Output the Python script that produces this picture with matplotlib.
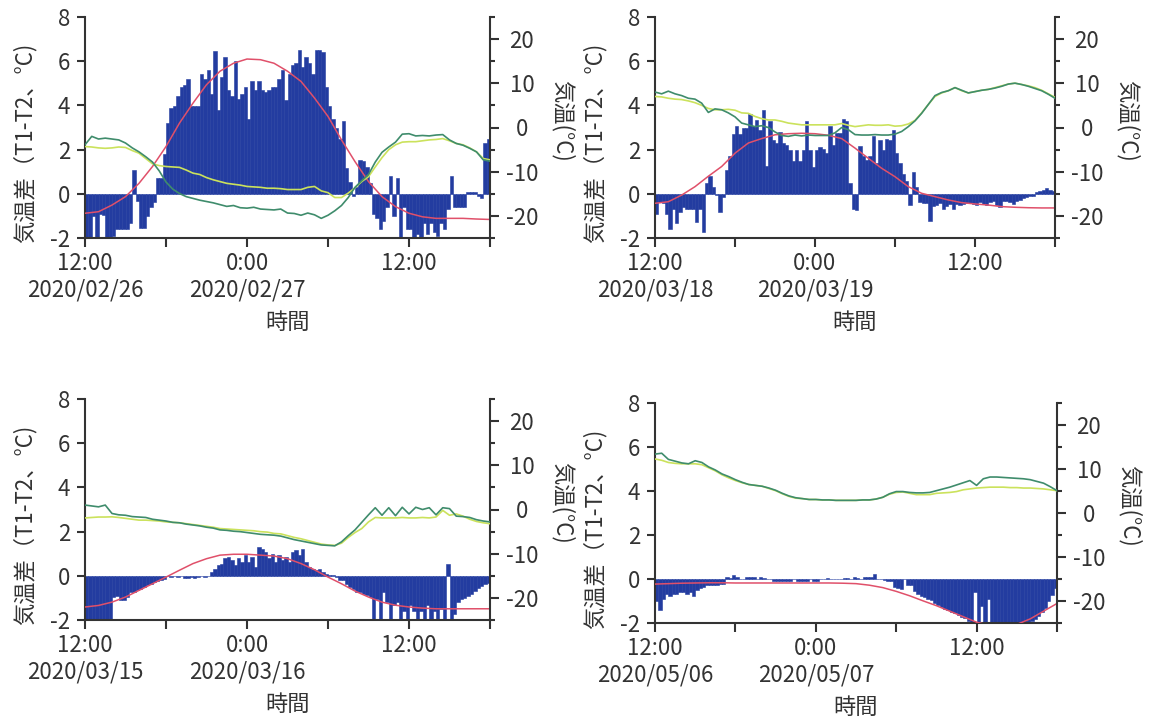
import numpy as np
import matplotlib
matplotlib.use("Agg")
import matplotlib.pyplot as plt

plt.rcParams['font.family'] = ['Noto Sans CJK JP', 'DejaVu Sans']
plt.rcParams['axes.unicode_minus'] = False

# ---------------- data ----------------
# bars: temperature difference T1-T2 (°C), 15-minute steps from 12:00 of day 1
bars_p1 = [-2.3, -2.3, -1.0, -2.3, -0.9, -0.95, -2.3, -2.3, -1.9, -1.6,
           -1.6, -1.6, -1.6, -1.3, 1.1, -0.3, -1.55, -1.55, -1.0, -0.6,
           -0.35, 0.7, 0.7, 1.8, 3.2, 3.9, 3.95, 4.4, 4.85, 4.9,
           5.2, 3.95, 3.95, 3.95, 5.4, 5.2, 5.6, 4.5, 6.45, 3.8,
           5.3, 6.2, 4.7, 4.4, 6.0, 4.3, 4.5, 4.85, 3.4, 5.1,
           4.7, 5.1, 4.7, 4.6, 4.7, 4.85, 4.85, 5.2, 5.6, 4.25,
           5.4, 5.8, 5.9, 6.5, 5.75, 6.2, 5.9, 5.4, 6.5, 6.5,
           6.4, 4.85, 3.95, 3.4, 3.0, 2.5, 3.3, 1.15, 0.55, -0.1,
           0.3, 1.55, 1.5, 1.2, 0.5, -0.9, -1.1, -1.6, -1.2, -0.6,
           0.8, -1.0, 0.7, -2.3, -0.6, -1.6, -1.6, -2.3, -1.8, -2.3,
           -1.3, -1.8, -1.3, -1.7, -1.9, -1.3, -1.6, -0.7, 0.8, -0.6,
           -0.6, -0.6, -0.6, 0.1, 0.1, 0.1, -0.1, -0.2, 2.3, 2.5]
bars_p2 = [-0.9, -0.35, -0.4, -0.9, -1.6, -0.7, -1.3, -0.8, -0.57, -0.7,
           -0.7, -0.7, -1.25, -0.7, -1.7, 0.5, 0.8, 0.3, -0.05, -0.8,
           -0.15, 1.1, 1.7, 2.7, 3.05, 2.7, 3.0, 3.0, 3.6, 3.05,
           3.35, 2.9, 3.8, 1.25, 3.3, 2.45, 2.3, 2.8, 2.3, 2.2,
           2.0, 1.5, 2.0, 1.5, 2.0, 3.3, 2.0, 1.2, 2.0, 2.1,
           2.05, 1.85, 3.05, 2.2, 2.75, 2.75, 3.4, 3.3, 0.5, -0.7,
           -0.72, 2.15, 1.7, 1.55, 1.7, 2.6, 1.4, 2.45, 2.0, 2.5,
           2.45, 2.9, 1.85, 1.4, 0.9, 0.6, -0.5, 1.0, 0.3, -0.35,
           -0.4, -0.4, -1.2, -0.55, -0.5, -0.4, -0.7, -0.55, -0.45, -0.7,
           -0.45, -0.5, -0.45, -0.4, -0.4, -0.45, -0.5, -0.35, -0.45, -0.5,
           -0.35, -0.3, -0.5, -0.6, -0.3, -0.3, -0.35, -0.45, -0.3, -0.25,
           -0.2, -0.15, -0.1, -0.1, 0.1, 0.15, 0.2, 0.25, 0.2, 0.15]
bars_p3 = [-2.3, -2.3, -2.3, -2.3, -2.3, -2.3, -2.3, -2.3, -0.95, -0.92,
           -1.1, -1.1, -0.95, -0.72, -0.72, -0.65, -0.57, -0.5, -0.42, -0.35,
           -0.27, -0.22, -0.18, -0.12, 0.0, -0.05, 0.0, -0.05, 0.0, -0.1,
           -0.08, -0.05, -0.1, -0.05, 0.0, -0.03, 0.0, 0.2, 0.33, 0.48,
           0.55, 0.8, 0.86, 0.7, 0.48, 0.8, 0.65, 0.94, 0.65, 0.86,
           0.4, 1.3, 1.24, 1.1, 0.8, 1.0, 0.63, 0.94, 0.7, 0.86,
           0.63, 1.1, 1.16, 0.94, 1.24, 0.63, 0.4, 0.33, 0.26, 0.33,
           0.18, 0.1, 0.03, 0.05, -0.05, -0.2, -0.2, -0.35, -0.5, -0.57,
           -0.72, -0.72, -0.8, -0.87, -0.95, -2.3, -1.05, -2.3, -0.72, -1.17,
           -2.3, -1.32, -1.17, -2.3, -1.6, -2.3, -1.32, -1.6, -2.3, -1.6,
           -2.3, -1.32, -2.3, -1.6, -2.3, -1.47, -2.3, 0.55, -2.3, -1.7,
           -1.17, -1.03, -1.0, -0.9, -0.8, -0.7, -0.55, -0.45, -0.35, -0.3]
bars_p4 = [-1.0, -1.4, -0.9, -0.65, -0.75, -0.65, -0.65, -0.57, -0.6, -0.65,
           -0.57, -0.75, -0.5, -0.4, -0.35, -0.27, -0.27, -0.25, -0.25, -0.2,
           -0.2, 0.1, 0.05, 0.2, 0.1, 0.0, 0.0, 0.08, 0.08, 0.08,
           0.0, 0.1, 0.06, 0.0, 0.0, -0.08, -0.08, -0.08, -0.1, -0.1,
           -0.1, 0.0, -0.08, -0.08, -0.08, -0.08, 0.0, -0.08, -0.08, 0.0,
           0.0, 0.05, 0.0, 0.0, 0.0, 0.0, 0.06, 0.06, 0.0, 0.1,
           0.06, 0.0, 0.1, 0.1, 0.1, 0.26, 0.0, 0.0, -0.05, -0.1,
           -0.1, -0.35, -0.4, -0.45, 0.0, -0.27, -0.27, -0.55, -0.65, -0.75,
           -0.8, -0.9, -0.95, -1.1, -1.18, -1.28, -1.33, -1.4, -1.48, -1.55,
           -1.63, -1.7, -1.78, -1.9, -2.0, -0.6, -2.3, -1.2, -2.3, -0.9,
           -2.3, -2.3, -2.3, -2.3, -2.3, -2.3, -2.3, -2.3, -2.3, -2.3,
           -2.3, -2.1, -1.9, -1.8, -1.65, -1.5, -1.3, -1.0, -0.7, -0.4]

# air temperature (°C, right axis), 30-minute steps: line A (dark green), line B (yellow-green)
tempA_p1 = [-3.9, -2.0, -2.6, -2.4, -2.6, -2.8, -3.5, -4.6, -5.5, -6.6, -7.8, -9.8, -12.3, -13.9,
            -14.9, -15.6, -16.0, -16.4, -16.7, -17.0, -17.4, -17.8, -17.6, -18.1, -18.2, -18.0,
            -18.4, -18.5, -18.6, -18.4, -19.3, -19.4, -19.8, -19.3, -19.7, -20.5, -19.8, -18.8,
            -17.6, -15.8, -13.5, -12.0, -10.6, -7.8, -5.6, -4.4, -3.3, -1.5, -1.4, -1.9, -1.8,
            -1.9, -1.7, -1.6, -2.8, -3.6, -4.0, -4.7, -5.5, -7.3, -7.6]
tempB_p1 = [-4.3, -4.4, -4.6, -4.7, -4.6, -4.4, -4.5, -5.2, -5.8, -7.0, -8.2, -8.6, -8.8, -8.9,
            -9.0, -9.6, -10.3, -10.6, -11.3, -11.8, -12.2, -12.6, -12.8, -13.0, -13.3, -13.4,
            -13.5, -13.7, -13.7, -13.8, -14.0, -14.0, -14.0, -13.5, -13.3, -14.3, -14.7, -15.8,
            -15.8, -14.8, -13.6, -12.2, -11.1, -8.9, -6.8, -5.0, -3.9, -3.3, -3.2, -3.2, -3.0,
            -2.8, -2.7, -2.5, -3.0, -3.6, -3.9, -4.6, -5.5, -7.0, -7.3]
tempA_p2 = [8.0, 7.6, 8.2, 7.6, 7.2, 6.6, 6.4, 5.5, 3.4, 4.2, 4.0, 3.3, 2.4, 1.0, 0.6, 0.2, 0.4,
            0.0, -1.0, -1.8, -2.0, -1.7, -1.9, -1.7, -1.8, -1.8, -1.8, -1.2, 0.0, -0.5, -1.6,
            -1.7, -1.7, -1.6, -1.7, -1.7, -1.5, -0.9, 0.2, 1.5, 3.2, 5.2, 7.2, 7.9, 8.3, 9.0,
            8.4, 7.8, 8.1, 8.4, 8.6, 8.9, 9.3, 9.8, 10.0, 9.7, 9.3, 8.8, 8.3, 7.5, 6.6]
tempB_p2 = [7.0, 6.9, 6.6, 6.4, 6.3, 6.0, 5.6, 5.0, 4.3, 4.0, 4.0, 4.1, 3.9, 3.3, 3.2, 2.5, 2.0,
            1.7, 1.7, 1.4, 1.0, 0.8, 0.6, 0.6, 0.6, 0.6, 0.6, 0.6, 0.9, 0.5, 0.2, 0.4, 0.6, 0.5,
            0.5, 0.6, 0.3, 0.4, 0.8, 1.6, 3.3, 5.2, 7.0, 7.8, 8.3, 9.0, 8.3, 7.8, 8.1, 8.4, 8.6,
            9.0, 9.4, 9.8, 10.0, 9.7, 9.4, 9.0, 8.4, 7.6, 6.8]
tempA_p3 = [1.0, 0.8, 0.6, 1.0, -0.9, -1.2, -1.3, -1.6, -1.7, -1.8, -2.2, -2.4, -2.6, -2.9, -3.0,
            -3.3, -3.5, -3.7, -4.0, -4.2, -4.6, -4.7, -4.9, -5.0, -5.2, -5.4, -5.6, -5.7, -5.8,
            -6.0, -6.4, -6.8, -7.1, -7.4, -7.7, -8.0, -8.1, -8.2, -7.3, -5.9, -4.6, -2.9, -1.2,
            0.4, -1.3, 0.4, -1.4, 0.5, -1.0, 0.5, 0.0, 0.4, -1.2, 0.4, 0.2, -1.5, -1.6, -1.8,
            -2.3, -2.6, -2.8]
tempB_p3 = [-1.9, -1.8, -1.7, -1.7, -1.65, -1.8, -2.0, -2.2, -2.4, -2.4, -2.5, -2.6, -2.8, -2.9,
            -3.0, -3.2, -3.4, -3.6, -3.8, -4.0, -4.3, -4.4, -4.5, -4.6, -4.7, -4.8, -5.0, -5.1,
            -5.4, -5.5, -5.9, -6.3, -6.6, -7.0, -7.4, -7.8, -8.0, -8.1, -7.6, -6.3, -5.2, -4.3,
            -2.8, -1.8, -1.9, -1.9, -1.9, -1.8, -1.9, -1.9, -1.8, -1.9, -1.7, -0.2, -1.3, -1.0,
            -1.5, -2.2, -2.7, -3.0, -3.2]
tempA_p4 = [13.4, 13.6, 12.2, 11.8, 11.4, 11.2, 11.9, 11.5, 10.5, 9.8, 8.9, 8.3, 7.6, 7.0, 6.5,
            6.3, 6.1, 5.7, 5.2, 4.5, 3.9, 3.5, 3.3, 3.1, 3.1, 3.0, 3.0, 2.9, 2.9, 2.9, 2.9, 3.0,
            3.0, 3.2, 3.6, 4.4, 4.9, 4.9, 4.7, 4.6, 4.6, 4.7, 5.1, 5.5, 5.9, 6.4, 6.9, 7.4, 6.3,
            7.8, 8.2, 8.2, 8.1, 8.0, 7.9, 7.8, 7.6, 7.2, 6.8, 6.0, 5.1]
tempB_p4 = [12.3, 12.0, 11.5, 11.3, 11.2, 11.2, 11.2, 11.0, 10.3, 9.6, 8.7, 8.0, 7.4, 6.9, 6.5,
            6.3, 6.1, 5.6, 5.1, 4.4, 3.8, 3.4, 3.3, 3.1, 3.1, 3.0, 3.0, 2.9, 2.9, 2.9, 2.9, 3.0,
            3.0, 3.2, 3.6, 4.3, 4.7, 4.8, 4.5, 4.2, 4.2, 4.2, 4.5, 4.6, 4.7, 4.9, 5.3, 5.5, 5.7,
            5.8, 5.9, 5.9, 5.9, 5.8, 5.8, 5.7, 5.7, 5.6, 5.5, 5.3, 5.1]

# red reference curve (left-axis units), hourly steps
red_p1 = [-0.87, -0.8, -0.5, -0.12, 0.48, 1.24, 2.14, 3.2, 4.1, 4.93, 5.54, 5.9, 6.09, 6.06, 5.9,
          5.54, 5.08, 4.33, 3.5, 2.44, 1.46, 0.56, -0.12, -0.57, -0.87, -1.03, -1.1, -1.1, -1.1,
          -1.13, -1.15]
red_p2 = [-0.42, -0.35, -0.05, 0.33, 0.8, 1.24, 1.84, 2.3, 2.5, 2.67, 2.72, 2.74, 2.72, 2.65, 2.5,
          2.07, 1.61, 1.16, 0.78, 0.33, 0.03, -0.12, -0.27, -0.39, -0.45, -0.5, -0.57, -0.6, -0.62,
          -0.63, -0.63]
red_p3 = [-1.4, -1.33, -1.18, -0.95, -0.65, -0.35, -0.05, 0.26, 0.56, 0.78, 0.94, 0.98, 0.98, 0.94,
          0.9, 0.78, 0.56, 0.28, -0.05, -0.35, -0.68, -0.95, -1.18, -1.32, -1.4, -1.45, -1.48,
          -1.48, -1.48, -1.48, -1.48]
red_p4 = [-0.22, -0.2, -0.18, -0.17, -0.16, -0.16, -0.17, -0.17, -0.17, -0.17, -0.17, -0.17, -0.17,
          -0.17, -0.18, -0.2, -0.27, -0.38, -0.55, -0.75, -0.98, -1.2, -1.45, -1.7, -1.95, -2.1,
          -2.15, -2.05, -1.8, -1.45, -1.1]

dates_p1 = ["2020/02/26", "2020/02/27"]
dates_p2 = ["2020/03/18", "2020/03/19"]
dates_p3 = ["2020/03/15", "2020/03/16"]
dates_p4 = ["2020/05/06", "2020/05/07"]

left_ticks = [-2, 0, 2, 4, 6, 8]
right_major = [-20, -10, 0, 10, 20]
right_minor = [-25, -15, -5, 5, 15, 25]

ylabel_left = "気温差（T1-T2、°C)"
ylabel_right = "気温(°C)"
xlabel = "時間"

# ---------------- style ----------------
BLUE = "#233ca0"
GREEN = "#3f8c6c"
YELLOW = "#cbe25c"
RED = "#e0506a"
TXT = "#333333"
FS = 16

W, H = 1150, 718
fig = plt.figure(figsize=(W / 100, H / 100), dpi=100)
fig.patch.set_facecolor("white")

# panel boxes in pixels: left, top, right, bottom
boxes = [(85, 16.7, 490, 238.3), (655, 16.7, 1055, 238.3),
         (85, 398.7, 490, 620.3), (655, 403, 1057, 623.3)]
panels = [(bars_p1, tempA_p1, tempB_p1, red_p1, dates_p1),
          (bars_p2, tempA_p2, tempB_p2, red_p2, dates_p2),
          (bars_p3, tempA_p3, tempB_p3, red_p3, dates_p3),
          (bars_p4, tempA_p4, tempB_p4, red_p4, dates_p4)]

for (l, t, r, b), (bars, tA, tB, red, dates) in zip(boxes, panels):
    ax = fig.add_axes([l / W, 1 - b / H, (r - l) / W, (b - t) / H])
    xb = np.arange(len(bars)) * 0.25
    ax.bar(xb, bars, width=0.25, align="edge", color=BLUE, edgecolor=BLUE,
           linewidth=0.4, zorder=2)
    ax.plot(np.arange(len(red)) * 1.0, red, color=RED, lw=1.1, zorder=3)
    ax.set_xlim(0, 30)
    ax.set_ylim(-2, 8)
    ax.set_yticks(left_ticks)
    ax.set_yticklabels([str(v) for v in left_ticks])
    ax.set_xticks([0, 12, 24])
    ax.set_xticklabels([f"12:00\n{dates[0]}", f"0:00\n{dates[1]}", "12:00"])
    ax.set_xticks([6, 18, 30], minor=True)
    ax.tick_params(axis="x", which="both", direction="out", length=6.5, width=1.5,
                   pad=3.5, labelsize=FS, colors=TXT)
    ax.tick_params(axis="y", which="both", direction="out", length=5.8, width=1.5,
                   pad=5, labelsize=FS, colors=TXT)
    for s in ("top", "right"):
        ax.spines[s].set_visible(False)
    for s in ("left", "bottom"):
        ax.spines[s].set_linewidth(1.5)
        ax.spines[s].set_color(TXT)
    ax.set_facecolor("none")

    ax2 = ax.twinx()
    xl = np.arange(len(tA)) * 0.5
    ax2.plot(np.arange(len(tB)) * 0.5, tB, color=YELLOW, lw=1.2, zorder=4)
    ax2.plot(xl, tA, color=GREEN, lw=1.2, zorder=5)
    ax2.set_ylim(-25, 25)
    ax2.set_yticks(right_major)
    ax2.set_yticklabels([str(v) for v in right_major])
    ax2.set_yticks(right_minor, minor=True)
    ax2.tick_params(axis="y", which="major", direction="out", length=6.5, width=1.5,
                    pad=16.5, labelsize=FS, colors=TXT)
    ax2.tick_params(axis="y", which="minor", direction="out", length=3.6, width=1.5,
                    colors=TXT)
    for lbl in ax2.get_yticklabels():
        lbl.set_horizontalalignment("center")
    for s in ("top", "left", "bottom"):
        ax2.spines[s].set_visible(False)
    ax2.spines["right"].set_linewidth(1.5)
    ax2.spines["right"].set_color(TXT)

    cy = (t + b) / 2
    fig.text((l - 60) / W, 1 - (cy + 15.5) / H, ylabel_left, rotation=90,
             ha="center", va="center", fontsize=FS, color=TXT)
    fig.text((r + 73) / W, 1 - (cy - 7) / H, ylabel_right, rotation=-90,
             ha="center", va="center", fontsize=FS, color=TXT)
    fig.text((l + r) / 2 / W, 1 - (b + 84) / H, xlabel,
             ha="center", va="center", fontsize=FS, color=TXT)

fig.savefig("out.png", dpi=100, facecolor="white")
